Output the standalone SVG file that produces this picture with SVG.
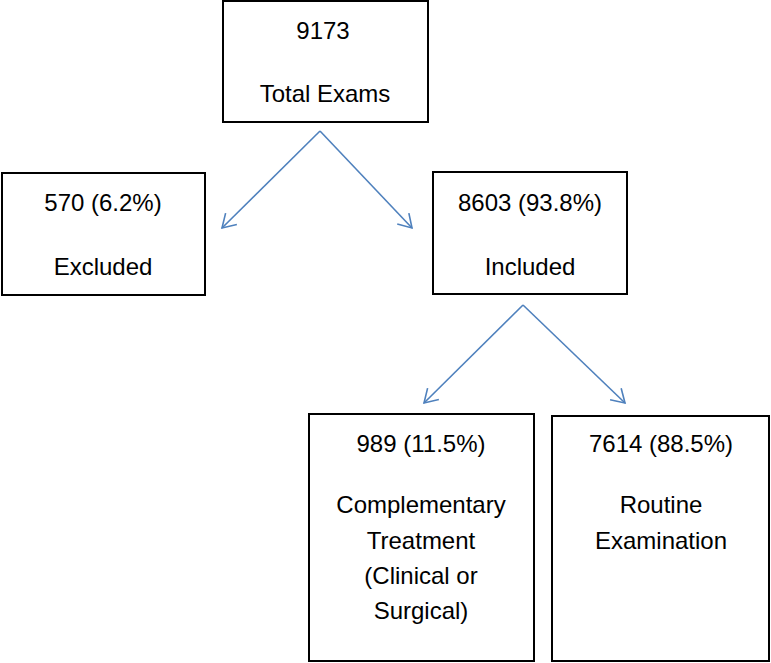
<svg xmlns="http://www.w3.org/2000/svg" width="771" height="663" viewBox="0 0 771 663">
<defs>
<style>
.box{fill:#fff;stroke:#000;stroke-width:2}
.t{font-family:"Liberation Sans",Arial,sans-serif;font-size:24px;fill:#000;text-anchor:middle}
.c{fill:none;stroke:#4f81bd;stroke-width:1.6}
</style>
<marker id="ah" markerWidth="18" markerHeight="18" refX="14" refY="9" orient="auto" markerUnits="userSpaceOnUse">
<path d="M1,1 L14,9 L1,17" fill="none" stroke="#4f81bd" stroke-width="1.6"/>
</marker>
</defs>
<rect width="771" height="663" fill="#fff"/>
<g id="connectors">
<line class="c" x1="320" y1="131" x2="222" y2="228" marker-end="url(#ah)"/>
<line class="c" x1="320" y1="131" x2="412" y2="228" marker-end="url(#ah)"/>
<line class="c" x1="523" y1="305" x2="424" y2="403" marker-end="url(#ah)"/>
<line class="c" x1="523" y1="305" x2="625" y2="403" marker-end="url(#ah)"/>
</g>
<g id="total">
<rect class="box" x="223" y="1" width="205" height="121"/>
<text class="t" x="323" y="39">9173</text>
<text class="t" x="325" y="102">Total Exams</text>
</g>
<g id="excluded">
<rect class="box" x="2" y="173" width="203" height="122"/>
<text class="t" x="103" y="211">570 (6.2%)</text>
<text class="t" x="103" y="275">Excluded</text>
</g>
<g id="included">
<rect class="box" x="433" y="172" width="194" height="122"/>
<text class="t" x="530" y="211">8603 (93.8%)</text>
<text class="t" x="530" y="275">Included</text>
</g>
<g id="complementary">
<rect class="box" x="309" y="414" width="225" height="247"/>
<text class="t" x="421" y="452">989 (11.5%)</text>
<text class="t" x="421" y="513">Complementary</text>
<text class="t" x="421" y="549">Treatment</text>
<text class="t" x="421" y="584">(Clinical or</text>
<text class="t" x="421" y="619">Surgical)</text>
</g>
<g id="routine">
<rect class="box" x="552" y="416" width="217" height="245"/>
<text class="t" x="661" y="452">7614 (88.5%)</text>
<text class="t" x="661" y="513">Routine</text>
<text class="t" x="661" y="549">Examination</text>
</g>
</svg>
